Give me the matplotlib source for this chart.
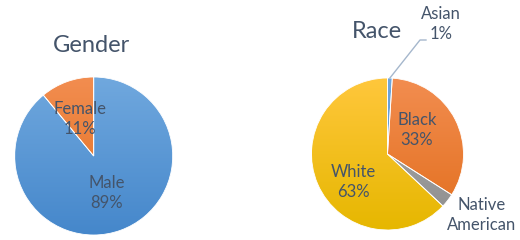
import matplotlib
import matplotlib.pyplot as plt
import numpy as np
from matplotlib.colors import LinearSegmentedColormap

matplotlib.use("agg")

# Data
gender_labels = ["Male", "Female"]
gender_values = [89, 11]
race_labels = ["Asian", "Black", "Native\nAmerican", "White"]
race_values = [1, 33, 3, 63]
race_pct_shown = ["1%", "33%", "", "63%"]

TEXT = "#44546A"
plt.rcParams["font.family"] = ["Lato", "DejaVu Sans"]

# (top colour, bottom colour) for the Excel-like gradient fill
gender_colors = [("#70A8DE", "#4587CB"), ("#F28D50", "#E26E1C")]
race_colors = [("#6FA6DC", "#4A89CC"), ("#F28D50", "#E26E1C"),
               ("#ABABAB", "#8E8E8E"), ("#FFC73C", "#E6B700")]

fig = plt.figure(figsize=(5.2, 2.4), dpi=100)
ax = fig.add_axes([0, 0, 1, 1])


def gradient_pie(values, colors, center, radius):
    wedges, _ = ax.pie(values, startangle=90, counterclock=False, center=center,
                       radius=radius, colors=[c[1] for c in colors],
                       wedgeprops=dict(edgecolor="white", linewidth=0.6))
    grad = np.linspace(0, 1, 256).reshape(-1, 1)
    for w, (top, bottom) in zip(wedges, colors):
        cmap = LinearSegmentedColormap.from_list("g", [top, bottom])
        im = ax.imshow(grad, cmap=cmap, aspect="auto", zorder=w.get_zorder() + 0.1,
                       extent=(center[0] - radius, center[0] + radius,
                               center[1] - radius, center[1] + radius),
                       origin="upper")
        im.set_clip_path(w)
        w.set_zorder(w.get_zorder() + 0.2)
        w.set_facecolor("none")
    return wedges


# Gender pie
g_center, g_r = (93.7, 84.0), 79.0
gradient_pie(gender_values, gender_colors, g_center, g_r)
ax.text(92, 195, "Gender", ha="center", va="center", fontsize=17, color=TEXT)
gender_text_xy = [(107, 47), (80, 121)]
for name, val, (x, y) in zip(gender_labels, gender_values, gender_text_xy):
    ax.text(x, y, f"{name}\n{val}%", ha="center", va="center", fontsize=12,
            color=TEXT, zorder=5, linespacing=1.3)

# Race pie
r_center, r_r = (387.5, 86.0), 76.0
wedges = gradient_pie(race_values, race_colors, r_center, r_r)
ax.text(377, 209, "Race", ha="center", va="center", fontsize=17, color=TEXT)
race_text_xy = [(441, 216), (417, 110), (482, 25), (353, 58)]
for name, pct, (x, y) in zip(race_labels, race_pct_shown, race_text_xy):
    s = f"{name}\n{pct}" if pct else name
    ax.text(x, y, s, ha="center", va="center", fontsize=12,
            color=TEXT, zorder=5, linespacing=1.3)

# Leader line for the tiny Asian slice
asian = wedges[0]
mid = np.deg2rad((asian.theta1 + asian.theta2) / 2)
x0 = r_center[0] + r_r * np.cos(mid)
y0 = r_center[1] + r_r * np.sin(mid)
ax.plot([x0, 420, 426], [y0, 200, 200], color="#A5B7CC", lw=1.0, zorder=6)

ax.set_xlim(0, 520)
ax.set_ylim(0, 240)
ax.set_aspect("auto")
ax.axis("off")

fig.savefig("out.png", dpi=100, facecolor="white")
